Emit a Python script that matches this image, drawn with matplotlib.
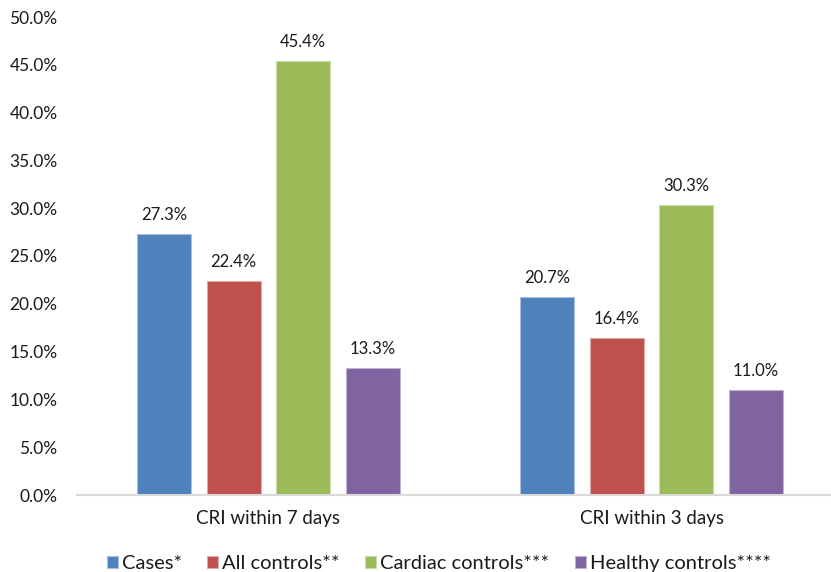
import numpy as np
import matplotlib
matplotlib.use("Agg")
import matplotlib.pyplot as plt

plt.rcParams["font.family"] = ["Lato", "DejaVu Sans"]

categories = ["CRI within 7 days", "CRI within 3 days"]
series_names = ["Cases*", "All controls**", "Cardiac controls***", "Healthy controls****"]
cases = [27.3, 20.7]
all_controls = [22.4, 16.4]
cardiac_controls = [45.4, 30.3]
healthy_controls = [13.3, 11.0]
yticks = [0, 5, 10, 15, 20, 25, 30, 35, 40, 45, 50]

colors = ["#4F81BD", "#C0504D", "#9BBB59", "#8064A2"]
edge_colors = ["#a7c0de", "#e0a8a6", "#cddcac", "#bfb1d0"]

fig = plt.figure(figsize=(8.31, 5.72), dpi=100)
ax = fig.add_axes([77 / 831, 77 / 572, 754 / 831, 478 / 572])

x = np.arange(len(categories))
width = 0.142
step = 0.1815
values = [cases, all_controls, cardiac_controls, healthy_controls]

for i, (name, vals) in enumerate(zip(series_names, values)):
    offset = (i - 1.5) * step
    bars = ax.bar(x + offset, vals, width, color=colors[i], edgecolor=edge_colors[i],
                  linewidth=0.8, label=name)
    for b, v in zip(bars, vals):
        ax.annotate(f"{v:.1f}%", (b.get_x() + b.get_width() / 2, v),
                    xytext=(0, 8), textcoords="offset points",
                    ha="center", va="bottom", fontsize=12, color="#1a1a1a")

ax.set_xlim(-0.5, 1.5 - 12 / 383)
ax.set_ylim(0, 50)
ax.set_yticks(yticks)
ax.set_yticklabels([f"{t:.1f}%" for t in yticks], fontsize=12.5, color="#1a1a1a")
ax.set_xticks(x)
ax.set_xticklabels(categories, fontsize=13.5, color="#1a1a1a")
ax.tick_params(axis="y", length=0, pad=14)
ax.tick_params(axis="x", length=0, pad=11)

for side in ["top", "right", "left"]:
    ax.spines[side].set_visible(False)
ax.spines["bottom"].set_color("#d9d9d9")
ax.spines["bottom"].set_linewidth(1.5)

fig.legend(loc="lower center", bbox_to_anchor=(0.528, -0.032), ncol=4, frameon=False,
           fontsize=14.5, handlelength=0.55, handleheight=0.55, handletextpad=0.2,
           columnspacing=1.25, labelcolor="#1a1a1a")

fig.savefig("out.png", dpi=100)
